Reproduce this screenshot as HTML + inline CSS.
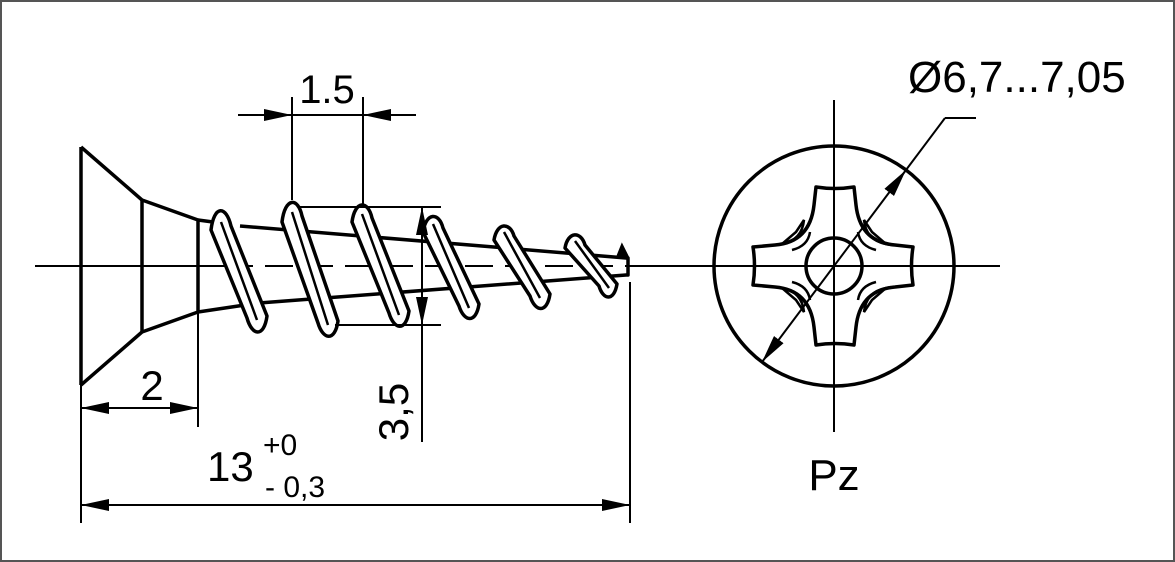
<!DOCTYPE html>
<html><head><meta charset="utf-8"><style>
html,body{margin:0;padding:0;background:#fff}
svg{display:block}
text{font-family:"Liberation Sans",sans-serif;fill:#000}
</style></head><body>
<svg width="1175" height="562" viewBox="0 0 1175 562" xmlns="http://www.w3.org/2000/svg">
<rect x="1" y="1" width="1173" height="560" fill="#fff" stroke="#555" stroke-width="2"/>
<defs>
<marker id="a" viewBox="0 0 28 12" refX="28" refY="6" markerWidth="28" markerHeight="12" markerUnits="userSpaceOnUse" orient="auto"><path d="M0,0 L28,6 L0,12 Z" fill="#000"/></marker>
</defs>
<g stroke="#000" fill="none">
<line x1="35" y1="266" x2="225" y2="266" stroke-width="2"/>
<line x1="225" y1="266" x2="630" y2="266" stroke-width="2" stroke-dasharray="28,12"/>
<line x1="630" y1="266" x2="1000" y2="266" stroke-width="2"/>
<line x1="834" y1="100" x2="834" y2="432" stroke-width="2"/>
<g stroke-width="3.5" stroke-linejoin="round">
<path d="M81,147 L81,385"/>
<path d="M81,147 L142,200 L198,220 L198,312 L142,332 L81,385"/>
<path d="M142,200 L142,332"/>
<path d="M198,220 L228,224 M240,226 L626,258 L628,258 L628,275 L626,275 L259,303 M198,312 L245,305"/>
</g>
<g stroke-width="3.5" fill="#fff" stroke-linejoin="round">
<path d="M211,230 C214,205 226,205 231,226 L267,316 C264,338 252,336 247,318 Z"/>
<path d="M282,222 C285,197 298,197 302,216 L338,321 C335,342 323,340 318,323 Z"/>
<path d="M352,222 C355,200 368,200 372,218 L409,311 C406,332 394,330 389,313 Z"/>
<path d="M423,232 C426,212 439,212 443,228 L479,304 C476,324 464,322 459,306 Z"/>
<path d="M494,240 C497,222 510,222 514,236 L550,294 C547,314 535,312 530,296 Z"/>
<path d="M565,248 C568,231 581,231 585,245 L617,284 C614,302 603,300 599,286 Z"/>
</g>
<g stroke-width="2.5">
<path d="M221,222 L257,320 M292,212 L328,325 M362,214 L399,315 M433,224 L469,308 M504,232 L540,298 M575,241 L609,288"/>
</g>
<path d="M618,256 L622,246 L628,258" stroke-width="3" fill="#000"/>
<g stroke-width="2">
<line x1="292" y1="97" x2="292" y2="200"/>
<line x1="363" y1="97" x2="363" y2="205"/>
<line x1="238" y1="115" x2="292" y2="115" marker-end="url(#a)"/>
<line x1="416" y1="115" x2="363" y2="115" marker-end="url(#a)"/>
<line x1="292" y1="115" x2="363" y2="115"/>
<line x1="300" y1="207" x2="441" y2="207"/>
<line x1="335" y1="325" x2="441" y2="325"/>
<line x1="422" y1="207" x2="422" y2="442"/>
<line x1="422" y1="240" x2="422" y2="207" marker-end="url(#a)"/>
<line x1="422" y1="295" x2="422" y2="325" marker-end="url(#a)"/>
<line x1="81" y1="385" x2="81" y2="523"/>
<line x1="198" y1="312" x2="198" y2="427"/>
<line x1="140" y1="408" x2="81" y2="408" marker-end="url(#a)"/>
<line x1="140" y1="408" x2="198" y2="408" marker-end="url(#a)"/>
<line x1="630" y1="282" x2="630" y2="523"/>
<line x1="350" y1="505" x2="81" y2="505" marker-end="url(#a)"/>
<line x1="350" y1="505" x2="630" y2="505" marker-end="url(#a)"/>
</g>
<circle cx="834" cy="266" r="120" stroke-width="3.5"/>
<circle cx="834" cy="266" r="28" stroke-width="3.5"/>
<path d="M816,187 Q835,190 854,187 L856,205 Q860,242 895,245 L913,247 Q910,266 913,285 L895,287 Q860,290 856,327 L854,345 Q835,342 816,345 L814,327 Q810,290 775,287 L753,285 Q756,266 753,247 L775,245 Q810,242 814,205 Z" stroke-width="3.5" stroke-linejoin="round"/>
<g stroke-width="2.5">
<path d="M864,220 Q866,240 886,244 L872,232 Z"/>
<path d="M804,220 Q802,240 782,244 L796,232 Z"/>
<path d="M864,312 Q866,292 886,288 L872,300 Z"/>
<path d="M804,312 Q802,292 782,288 L796,300 Z"/>
<path d="M858,232 Q860,246 876,250 M810,232 Q808,246 792,250 M858,300 Q860,286 876,282 M810,300 Q808,286 792,282"/>
</g>
<line x1="945" y1="118" x2="976" y2="118" stroke-width="2"/>
<line x1="945" y1="118" x2="906" y2="170" stroke-width="2"/>
<line x1="834" y1="266" x2="906" y2="170" stroke-width="2" marker-end="url(#a)"/>
<line x1="834" y1="266" x2="762" y2="362" stroke-width="2" marker-end="url(#a)"/>
</g>
<text x="327" y="103" font-size="40" text-anchor="middle">1.5</text>
<text x="152" y="400" font-size="42" text-anchor="middle">2</text>
<text x="207" y="481" font-size="42">13</text>
<text x="263" y="455" font-size="30">+0</text>
<text x="265" y="497" font-size="30">- 0,3</text>
<text transform="translate(408,412) rotate(-90)" font-size="42" text-anchor="middle">3,5</text>
<text x="834" y="490" font-size="44" text-anchor="middle">Pz</text>
<text x="908" y="92" font-size="44">Ø6,7...7,05</text>
</svg>
</body></html>
